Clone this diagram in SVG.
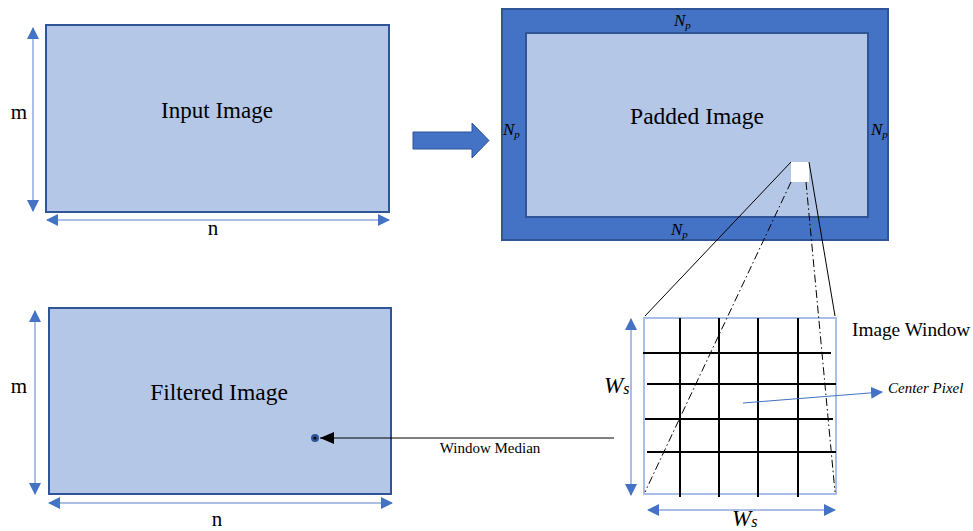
<svg xmlns="http://www.w3.org/2000/svg" width="973" height="531" viewBox="0 0 973 531">
  <style>
    .img { fill: #B4C7E7; stroke: #2F5597; stroke-width: 2; }
    .lbl { font-family: "Liberation Serif", "Times New Roman", serif; fill: #000; }
    .dim { stroke: #8FAADC; stroke-width: 1.5; fill: none; }
    .grid { stroke: #000; stroke-width: 2; }
    .np { font-family: "Liberation Serif", "Times New Roman", serif; font-style: italic; font-size: 17px; fill: #000; }
  </style>
  <defs>
    <marker id="blueHead" viewBox="0 0 12 12" refX="11" refY="6" markerWidth="12" markerHeight="12" markerUnits="userSpaceOnUse" orient="auto-start-reverse">
      <path d="M0,0 L12,6 L0,12 Z" fill="#4472C4"/>
    </marker>
    <marker id="blackHead" viewBox="0 0 14 12" refX="14" refY="6" markerWidth="14" markerHeight="12" markerUnits="userSpaceOnUse" orient="auto">
      <path d="M0,0 L14,6 L0,12 Z" fill="#000"/>
    </marker>
  </defs>

  <!-- Input image with its dimensions -->
  <g id="input-image">
    <rect class="img" x="46" y="25" width="343" height="187"/>
    <text class="lbl" x="217" y="118" font-size="23" text-anchor="middle">Input Image</text>
    <line class="dim" x1="33" y1="28" x2="33" y2="211" marker-start="url(#blueHead)" marker-end="url(#blueHead)"/>
    <text class="lbl" x="19" y="119" font-size="21" text-anchor="middle">m</text>
    <line class="dim" x1="47" y1="220" x2="389" y2="220" marker-start="url(#blueHead)" marker-end="url(#blueHead)"/>
    <text class="lbl" x="213" y="235" font-size="21" text-anchor="middle">n</text>
  </g>

  <!-- Padding step arrow -->
  <g id="pad-arrow">
    <path d="M413,132 L472,132 L472,123 L489,140.5 L472,158 L472,149 L413,149 Z" fill="#4472C4" stroke="#2F5597" stroke-width="1"/>
  </g>

  <!-- Padded image: border of width Np around the input -->
  <g id="padded-image">
    <rect x="502" y="9" width="386" height="231" fill="#4472C4" stroke="#2F5597" stroke-width="2"/>
    <rect class="img" x="526" y="33" width="342" height="184"/>
    <text class="lbl" x="697" y="124" font-size="23.5" text-anchor="middle">Padded Image</text>
    <text class="np" x="674" y="26">N<tspan font-size="11" dy="3">p</tspan></text>
    <text class="np" x="503" y="135">N<tspan font-size="11" dy="3">p</tspan></text>
    <text class="np" x="871" y="135">N<tspan font-size="11" dy="3">p</tspan></text>
    <text class="np" x="671" y="235">N<tspan font-size="11" dy="3">p</tspan></text>
    <rect x="791" y="162" width="18" height="20" fill="#FFFFFF"/>
  </g>

  <!-- Magnified image window -->
  <g id="image-window">
    <rect x="644" y="318" width="192" height="176" fill="#FFFFFF" stroke="#A9BFE6" stroke-width="2"/>
    <line class="grid" x1="680" y1="318" x2="680" y2="497"/>
    <line class="grid" x1="719" y1="318" x2="719" y2="497"/>
    <line class="grid" x1="758" y1="318" x2="758" y2="497"/>
    <line class="grid" x1="798" y1="318" x2="798" y2="497"/>
    <line class="grid" x1="643" y1="353" x2="831" y2="353"/>
    <line class="grid" x1="647" y1="384" x2="836" y2="384"/>
    <line class="grid" x1="645" y1="419" x2="833" y2="419"/>
    <line class="grid" x1="647" y1="452" x2="836" y2="452"/>
    <text class="lbl" x="852" y="336" font-size="19.3">Image Window</text>
    <line class="dim" x1="631" y1="319" x2="631" y2="495" marker-start="url(#blueHead)" marker-end="url(#blueHead)"/>
    <text class="lbl" x="604" y="393" font-size="23" font-style="italic">W<tspan font-size="16" dy="1">s</tspan></text>
    <line class="dim" x1="648" y1="510" x2="835" y2="510" marker-start="url(#blueHead)" marker-end="url(#blueHead)"/>
    <text class="lbl" x="732" y="526" font-size="23" font-style="italic">W<tspan font-size="16" dy="1">s</tspan></text>
    <text class="lbl" x="888" y="393" font-size="15" font-style="italic">Center Pixel</text>
  </g>

  <!-- Filtered output image -->
  <g id="filtered-image">
    <rect class="img" x="49" y="308" width="342" height="186"/>
    <text class="lbl" x="219" y="400" font-size="23.5" text-anchor="middle">Filtered Image</text>
    <line class="dim" x1="35" y1="311" x2="35" y2="494" marker-start="url(#blueHead)" marker-end="url(#blueHead)"/>
    <text class="lbl" x="19" y="393" font-size="21" text-anchor="middle">m</text>
    <line class="dim" x1="49" y1="503" x2="392" y2="503" marker-start="url(#blueHead)" marker-end="url(#blueHead)"/>
    <text class="lbl" x="217" y="526" font-size="21" text-anchor="middle">n</text>
    <circle cx="315" cy="438" r="4" fill="#2F5597"/>
    <circle cx="315" cy="438" r="1.6" fill="#000"/>
  </g>

  <!-- Connectors -->
  <g id="connectors">
    <line x1="791" y1="162" x2="645" y2="316" stroke="#000" stroke-width="1"/>
    <line x1="809" y1="162" x2="835" y2="316" stroke="#000" stroke-width="1"/>
    <line x1="791" y1="182" x2="645" y2="492" stroke="#000" stroke-width="1" stroke-dasharray="8,3,1.5,3"/>
    <line x1="806" y1="182" x2="835" y2="492" stroke="#000" stroke-width="1" stroke-dasharray="8,3,1.5,3"/>
    <line x1="743" y1="403" x2="882" y2="392" stroke="#4472C4" stroke-width="1" marker-end="url(#blueHead)"/>
    <line x1="614" y1="438" x2="320" y2="438" stroke="#000" stroke-width="1" marker-end="url(#blackHead)"/>
    <text class="lbl" x="490" y="453" font-size="15" text-anchor="middle">Window Median</text>
  </g>
</svg>
